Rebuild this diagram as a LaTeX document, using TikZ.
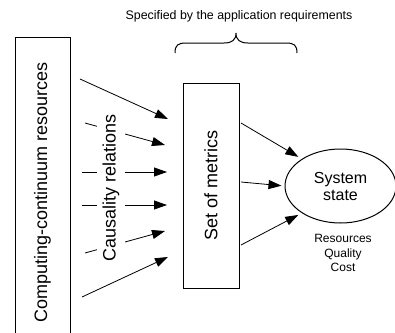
\documentclass[tikz,border=0pt]{standalone}
\usepackage{fontspec}
\setmainfont{Liberation Sans}
\usetikzlibrary{arrows.meta,calc,shapes.geometric}
\begin{document}
\begin{tikzpicture}[x=1pt,y=-1pt,
  box/.style={draw, line width=1pt, inner sep=0pt},
  arr/.style={-{Triangle[length=13pt,width=9pt]}, line width=0.8pt},
  big/.style={font=\fontsize{18}{21}\selectfont},
]
\useasboundingbox (0,0) rectangle (395,332);
\clip (0,0) rectangle (395,332);

\node[box, minimum width=55pt, minimum height=311pt, big] (res) at (42.5,192.5) {\rotatebox{90}{Computing-continuum resources}};
\node[box, minimum width=56pt, minimum height=205pt, big] (met) at (211,185.5) {\rotatebox{90}{Set of metrics}};
\node[ellipse, draw, line width=1pt, minimum width=111pt, minimum height=74pt, align=center, font=\fontsize{16}{17}\selectfont] (sys) at (340.5,186) {System\\state};
\node[align=center, font=\fontsize{12}{14.5}\selectfont] (attr) at (343,253) {Resources\\Quality\\Cost};
\node[font=\fontsize{12.4}{15}\selectfont] (spec) at (239,16) {Specified by the application requirements};

% brace
\draw[line width=1pt] (175,53) .. controls (175,45) and (178,43) .. (186,43) -- (224,43)
  .. controls (232,43) and (236,40) .. (236,33)
  .. controls (236,40) and (240,43) .. (248,43) -- (286,43)
  .. controls (294,43) and (297,45) .. (297,53);

% left arrows
\coordinate (s1) at (80,79);   \coordinate (e1) at (168,119);
\coordinate (s2) at (85,123);  \coordinate (e2) at (165,145);
\coordinate (s3) at (82,172);  \coordinate (e3) at (167,172);
\coordinate (s4) at (82,205);  \coordinate (e4) at (167,205);
\coordinate (s5) at (85,253);  \coordinate (e5) at (165,231);
\coordinate (s6) at (82,297);  \coordinate (e6) at (168,257);
\foreach \i in {1,...,6} { \draw[arr] (s\i) -- (e\i); }

\node[fill=white, inner xsep=5.5pt, inner ysep=2pt, big] (cau) at (111,188) {\rotatebox{90}{Causality relations}};

% right arrows
\coordinate (m1) at (241,123);
\coordinate (m2) at (241,182);
\coordinate (m3) at (241,245);
\draw[arr, shorten >=4pt] (m1) -- (sys.145);
\draw[arr, shorten >=3pt] (m2) -- (sys.180);
\draw[arr, shorten >=4pt] (m3) -- (sys.215);
\end{tikzpicture}
\end{document}
